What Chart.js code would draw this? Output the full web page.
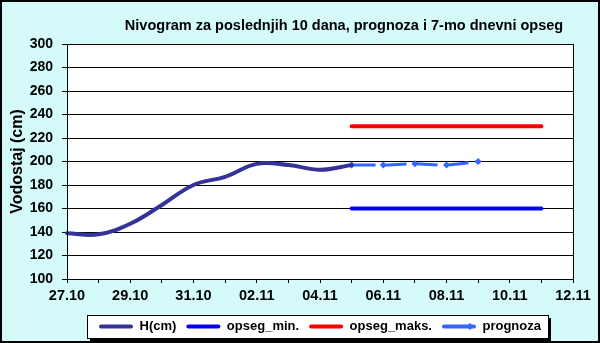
<!DOCTYPE html>
<html>
<head>
<meta charset="utf-8">
<script src="https://cdn.jsdelivr.net/npm/chart.js@4.4.0/dist/chart.umd.min.js"></script>
<style>
  html, body { margin: 0; padding: 0; background: #fff; }
</style>
</head>
<body>
<canvas id="nivogram" width="600" height="343"></canvas>
<script>
    // podaci sa grafika
    const naslov = 'Nivogram za poslednjih 10 dana, prognoza i 7-mo dnevni opseg';
    const dani = ['27.10', '28.10', '29.10', '30.10', '31.10', '01.11', '02.11', '03.11', '04.11',
        '05.11', '06.11', '07.11', '08.11', '09.11', '10.11', '11.11', '12.11'];
    const vodostaj = [139, 138, 147, 163, 180, 187, 198, 197, 193, 197];   // 27.10 - 05.11
    const prognoza = [197, 197, 198, 197, 200];                           // 05.11 - 09.11
    const opsegMin = [160, 160, 160, 160, 160, 160, 160];                  // 05.11 - 11.11
    const opsegMaks = [230, 230, 230, 230, 230, 230, 230];                 // 05.11 - 11.11
    const yOznake = [100, 120, 140, 160, 180, 200, 220, 240, 260, 280, 300];

    Chart.defaults.font.family = '"Liberation Sans", Arial, sans-serif';
    Chart.defaults.font.weight = 'bold';
    Chart.defaults.color = '#000';

    // niz duzine dani, sa null gde nema vrednosti
    function naDane(pocetak, niz) {
        var rez = dani.map(() => null);
        niz.forEach((v, i) => { rez[pocetak + i] = v; });
        return rez;
    }

    const pozadina = {
        id: 'pozadina',
        beforeDraw(chart) {
            const { ctx, chartArea: a, width, height } = chart;
            ctx.save();
            ctx.fillStyle = '#d4fafa';
            ctx.fillRect(0, 0, width, height);
            ctx.fillStyle = '#fff';
            ctx.fillRect(a.left, a.top, a.right - a.left, a.bottom - a.top);

            // okvir legende sa senkom
            const hb = chart.legend.legendHitBoxes;
            if (hb && hb.length) {
                const l = Math.round(hb[0].left) - 12;
                const r = Math.round(hb[hb.length - 1].left + hb[hb.length - 1].width) + 7;
                const t = Math.round(hb[0].top) - 5;
                const b = t + 23;
                ctx.fillStyle = '#000';
                ctx.fillRect(l + 3, t + 3, r - l, b - t);
                ctx.fillStyle = '#fff';
                ctx.fillRect(l, t, r - l, b - t);
                ctx.strokeStyle = '#000';
                ctx.lineWidth = 1;
                ctx.strokeRect(l + 0.5, t + 0.5, r - l, b - t);
            }

            ctx.fillStyle = '#000';
            ctx.font = 'bold 14.5px "Liberation Sans", Arial, sans-serif';
            ctx.textAlign = 'center';
            ctx.textBaseline = 'alphabetic';
            ctx.fillText(naslov, 344, 30);
            ctx.restore();
        },
        afterDraw(chart) {
            const { ctx, chartArea: a, width, height } = chart;
            ctx.save();
            ctx.strokeStyle = '#000';
            ctx.lineWidth = 1;
            ctx.strokeRect(Math.round(a.left) + 0.5, Math.round(a.top) + 0.5,
                Math.round(a.right - a.left), Math.round(a.bottom - a.top));
            ctx.lineWidth = 2;
            ctx.strokeRect(1, 1, width - 2, height - 2);

            // marker za prognozu u legendi
            const hb = chart.legend.legendHitBoxes;
            if (hb && hb[3]) {
                const x = hb[3].left + 28, y = hb[3].top + 6.5;
                ctx.fillStyle = '#3366ff';
                ctx.beginPath();
                ctx.moveTo(x, y - 3.5);
                ctx.lineTo(x + 3.5, y);
                ctx.lineTo(x, y + 3.5);
                ctx.lineTo(x - 3.5, y);
                ctx.closePath();
                ctx.fill();
            }
            ctx.restore();
        }
    };

    const data = {
        labels: dani,
        datasets: [{
            label: 'H(cm)',
            data: naDane(0, vodostaj),
            borderColor: '#333399',
            backgroundColor: '#333399',
            borderWidth: 4,
            pointRadius: 0,
            tension: 0.4,
            borderCapStyle: 'round'
        }, {
            label: 'opseg_min.',
            data: naDane(9, opsegMin),
            borderColor: '#0000ff',
            backgroundColor: '#0000ff',
            borderWidth: 4,
            pointRadius: 0,
            borderCapStyle: 'round'
        }, {
            label: 'opseg_maks.',
            data: naDane(9, opsegMaks),
            borderColor: '#ff0000',
            backgroundColor: '#ff0000',
            borderWidth: 4,
            pointRadius: 0,
            borderCapStyle: 'round'
        }, {
            label: 'prognoza',
            data: naDane(9, prognoza),
            borderColor: '#3366ff',
            backgroundColor: '#3366ff',
            borderWidth: 3,
            borderDash: [24, 7],
            pointStyle: 'rectRot',
            pointRadius: 3.5,
            pointBorderWidth: 0,
            tension: 0.3
        }]
    };

    const config = {
        type: 'line',
        data: data,
        plugins: [pozadina],
        options: {
            responsive: false,
            animation: false,
            layout: { padding: { left: 4, right: 27, top: 44, bottom: 0 } },
            scales: {
                x: {
                    type: 'category',
                    offset: false,
                    grid: { drawOnChartArea: false, drawTicks: true, tickLength: 4, color: '#000' },
                    border: { color: '#000' },
                    ticks: {
                        autoSkip: false,
                        maxRotation: 0,
                        padding: 4,
                        font: { size: 14.5, weight: 'bold' },
                        callback: function (value, index) {
                            return index % 2 === 0 ? dani[index] : '';
                        }
                    },
                    afterFit: function (scale) { scale.height = 31; }
                },
                y: {
                    min: yOznake[0],
                    max: yOznake[yOznake.length - 1],
                    afterBuildTicks: function (scale) {
                        scale.ticks = yOznake.map(v => ({ value: v }));
                    },
                    grid: { color: '#000', tickLength: 5 },
                    border: { color: '#000' },
                    ticks: { padding: 9, font: { size: 14, weight: 'bold' } },
                    title: {
                        display: true,
                        text: 'Vodostaj (cm)',
                        font: { size: 16, weight: 'bold' },
                        padding: { top: 4, bottom: 0 }
                    },
                    afterFit: function (scale) { scale.width = 63; }
                }
            },
            plugins: {
                title: { display: false },
                tooltip: { enabled: false },
                legend: {
                    position: 'bottom',
                    fullSize: false,
                    labels: {
                        boxWidth: 34,
                        boxHeight: 4,
                        padding: 10,
                        font: { size: 13, weight: 'bold' },
                        generateLabels: function (chart) {
                            return Chart.defaults.plugins.legend.labels.generateLabels(chart).map(item => {
                                item.fillStyle = chart.data.datasets[item.datasetIndex].borderColor;
                                item.lineWidth = 0;
                                item.borderRadius = 2;
                                return item;
                            });
                        }
                    }
                }
            }
        }
    };

    var ctx = document.getElementById('nivogram');
    var nivogram = new Chart(ctx, config);
</script>
</body>
</html>
